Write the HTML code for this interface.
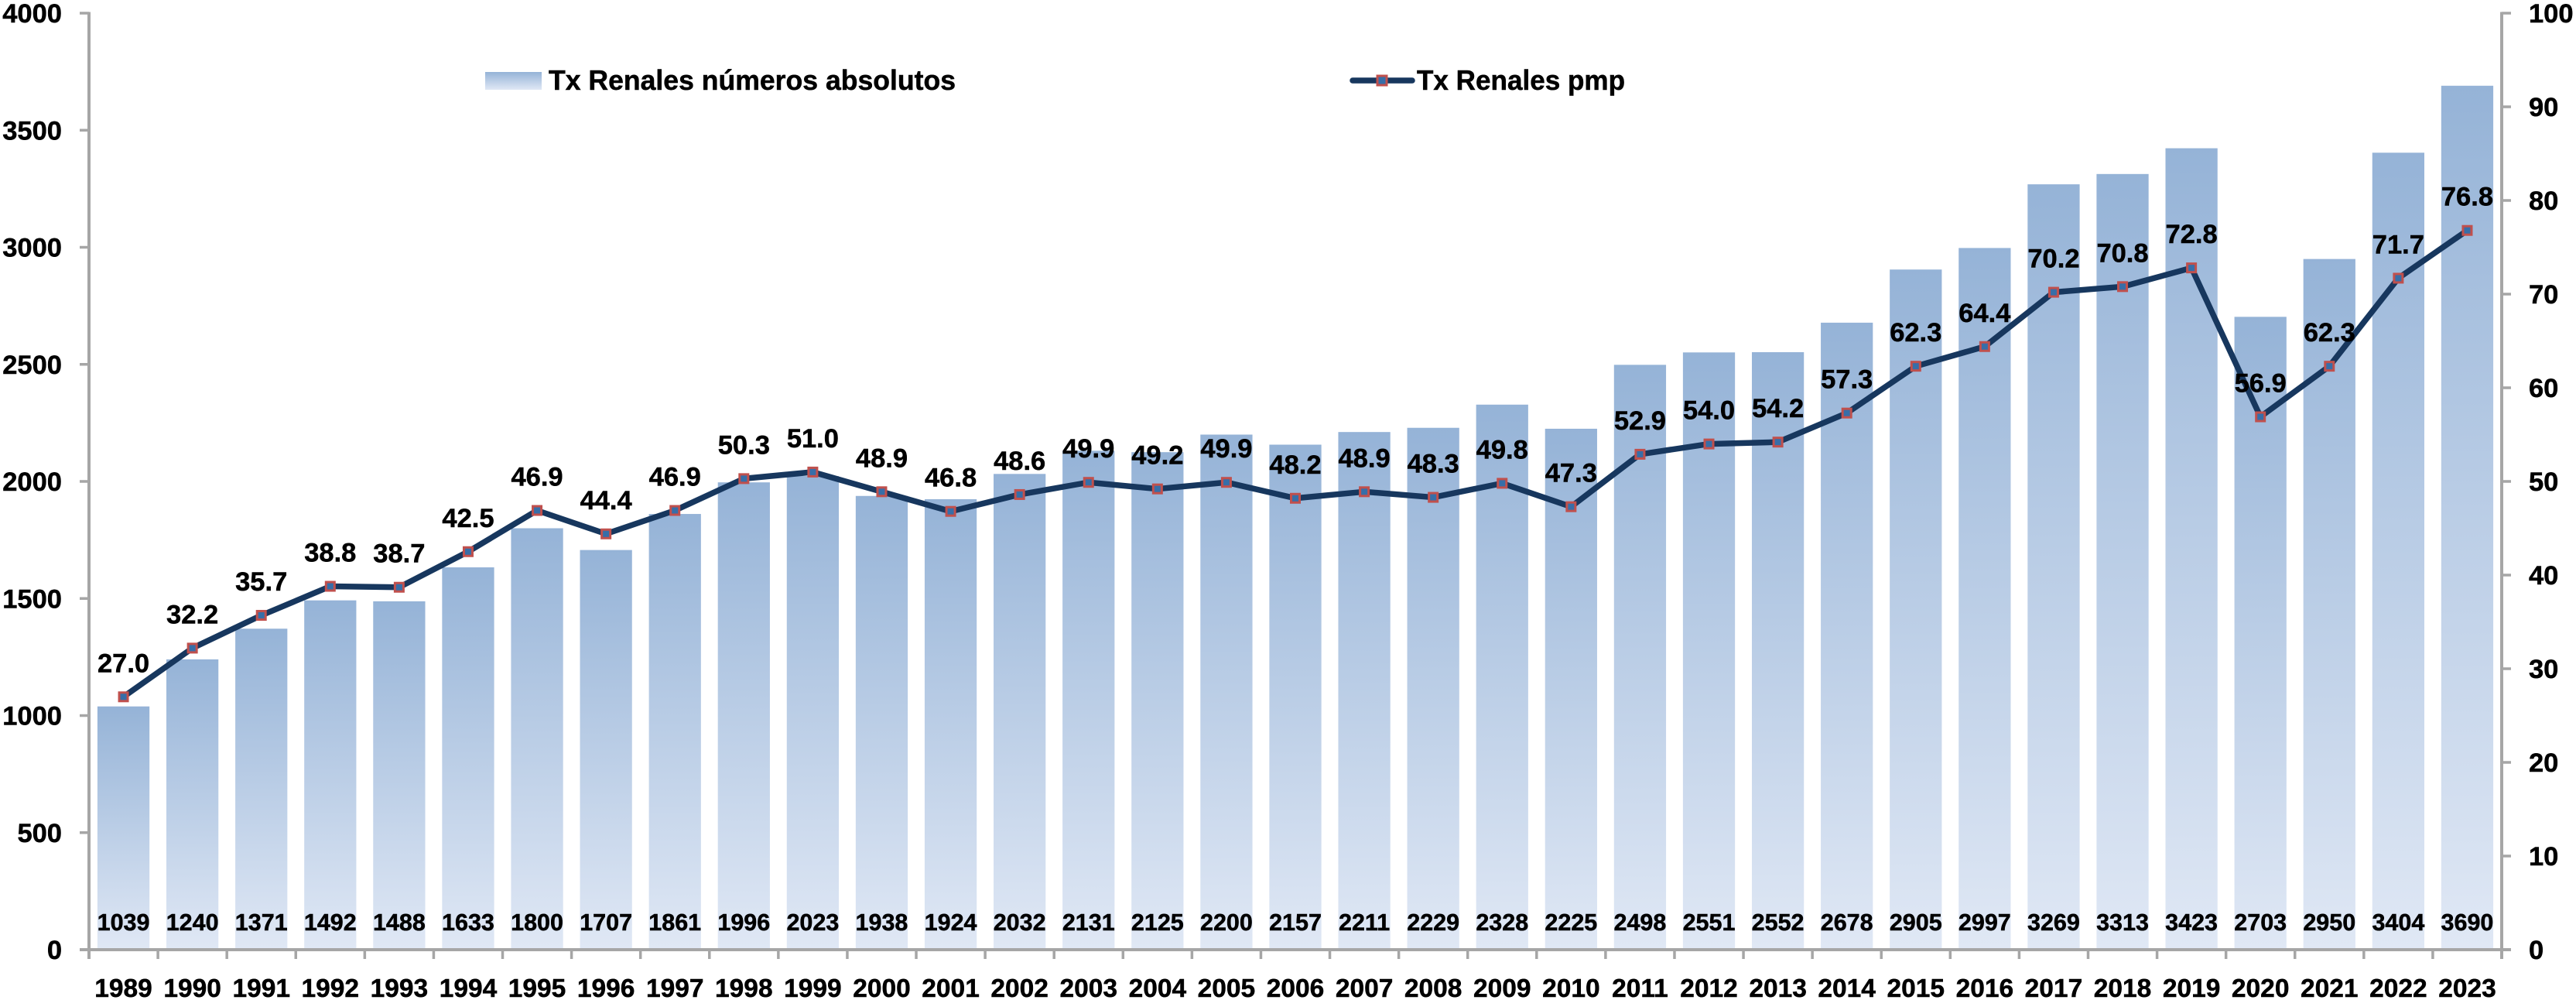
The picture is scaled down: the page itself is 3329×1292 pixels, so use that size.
<!DOCTYPE html>
<html lang="es">
<head>
<meta charset="utf-8">
<title>Tx Renales</title>
<style>
  html, body { margin: 0; padding: 0; background: #fff; }
  svg { display: block; }
  text { font-family: "Liberation Sans", sans-serif; font-weight: 700; fill: #000; stroke: #000; stroke-width: 0.5px; }
</style>
</head>
<body>
<svg id="chart" xmlns="http://www.w3.org/2000/svg" width="3329" height="1292" viewBox="0 0 3329 1292">
  <defs>
    <linearGradient id="barFill" x1="0" y1="0" x2="0" y2="1">
      <stop offset="0" stop-color="#95b3d7"/>
      <stop offset="1" stop-color="#e0e8f5"/>
    </linearGradient>
  </defs>
  <rect x="0" y="0" width="3329" height="1292" fill="#ffffff"/>
  <g id="bars"></g>
  <g id="axes"></g>
  <g id="line"></g>
  <g id="labels"></g>
  <g>
    <g>
      <rect x="627" y="93" width="73" height="23" fill="url(#barFill)"/>
      <text x="709" y="116" font-size="36" textLength="526" lengthAdjust="spacingAndGlyphs">Tx Renales números absolutos</text>
    </g>
    <g>
      <line x1="1748" y1="104" x2="1825" y2="104" stroke="#17375e" stroke-width="7.5" stroke-linecap="round"/>
      <rect x="1780" y="98" width="12" height="12" fill="#376ea8" stroke="#c0504d" stroke-width="3"/>
      <text x="1831" y="116" font-size="36" textLength="269" lengthAdjust="spacingAndGlyphs">Tx Renales pmp</text>
    </g>
  </g>
</svg>
<script>
const years = [1989,1990,1991,1992,1993,1994,1995,1996,1997,1998,1999,2000,2001,2002,2003,2004,2005,2006,2007,2008,2009,2010,2011,2012,2013,2014,2015,2016,2017,2018,2019,2020,2021,2022,2023];
const absolutos = [1039,1240,1371,1492,1488,1633,1800,1707,1861,1996,2023,1938,1924,2032,2131,2125,2200,2157,2211,2229,2328,2225,2498,2551,2552,2678,2905,2997,3269,3313,3423,2703,2950,3404,3690];
const pmp = [27.0,32.2,35.7,38.8,38.7,42.5,46.9,44.4,46.9,50.3,51.0,48.9,46.8,48.6,49.9,49.2,49.9,48.2,48.9,48.3,49.8,47.3,52.9,54.0,54.2,57.3,62.3,64.4,70.2,70.8,72.8,56.9,62.3,71.7,76.8];
const leftTicks = [0,500,1000,1500,2000,2500,3000,3500,4000];
const rightTicks = [0,10,20,30,40,50,60,70,80,90,100];

const NS = 'http://www.w3.org/2000/svg';
const plot = { left: 115, right: 3233, top: 17, bottom: 1227 };
const step = (plot.right - plot.left) / years.length;
const barW = step * 0.755;
const xPos = i => plot.left + step * (i + 0.5);
const yLeft = v => plot.bottom - v / 4000 * (plot.bottom - plot.top);
const yRight = v => plot.bottom - v / 100 * (plot.bottom - plot.top);

function make(tag, attrs, parent, txt) {
  const el = document.createElementNS(NS, tag);
  for (const k in attrs) el.setAttribute(k, attrs[k]);
  if (txt !== undefined) el.textContent = txt;
  parent.appendChild(el);
  return el;
}

const gBars = document.getElementById('bars');
const gAxes = document.getElementById('axes');
const gLine = document.getElementById('line');
const gLabels = document.getElementById('labels');
const AXIS = '#a6a6a6';

/* bars and their value labels */
absolutos.forEach((v, i) => {
  const bar = make('rect', { x: xPos(i) - barW / 2, y: yLeft(v), width: barW, height: plot.bottom - yLeft(v), fill: 'url(#barFill)' }, gBars);
  
  
  const lab = make('text', { x: xPos(i), y: 1202, 'font-size': 30.5, 'text-anchor': 'middle' }, gLabels, String(v));
  
  
});

/* axes */
const axisLines = [
  [plot.left, plot.top - 1.5, plot.left, 1239],
  [plot.right, plot.top - 1.5, plot.right, 1239],
  [103, plot.bottom, 3245, plot.bottom]
];
axisLines.forEach((c, i) => {
  const ax = make('line', { x1: c[0], y1: c[1], x2: c[2], y2: c[3], stroke: AXIS, 'stroke-width': 4 }, gAxes);
  
  
});
leftTicks.forEach(v => {
  const t = make('line', { x1: 103, x2: plot.left, y1: yLeft(v), y2: yLeft(v), stroke: AXIS, 'stroke-width': 3.5 }, gAxes);
  
  
  const l = make('text', { x: 80, y: yLeft(v) + 12, 'font-size': 34.5, 'text-anchor': 'end' }, gAxes, String(v));
  
  
});
rightTicks.forEach(v => {
  const t = make('line', { x1: plot.right, x2: 3245, y1: yRight(v), y2: yRight(v), stroke: AXIS, 'stroke-width': 3.5 }, gAxes);
  
  
  const l = make('text', { x: 3268, y: yRight(v) + 12, 'font-size': 34.5 }, gAxes, String(v));
  
  
});
years.forEach((y, i) => {
  const tx = plot.left + step * i;
  const t = make('line', { x1: tx, x2: tx, y1: plot.bottom, y2: 1239, stroke: AXIS, 'stroke-width': 3.5 }, gAxes);
  
  
  const l = make('text', { x: xPos(i), y: 1288, 'font-size': 33.5, 'text-anchor': 'middle' }, gAxes, String(y));
  
  
});

/* line series */
const pts = pmp.map((v, i) => xPos(i) + ',' + yRight(v)).join(' ');
const poly = make('polyline', { points: pts, fill: 'none', stroke: '#17375e', 'stroke-width': 7.5, 'stroke-linejoin': 'round', 'stroke-linecap': 'round' }, gLine);


pmp.forEach((v, i) => {
  const m = make('rect', { x: xPos(i) - 5.5, y: yRight(v) - 5.5, width: 11, height: 11, fill: '#376ea8', stroke: '#c0504d', 'stroke-width': 3 }, gLine);
  
  
  const l = make('text', { x: xPos(i), y: yRight(v) - 32, 'font-size': 34.5, 'text-anchor': 'middle' }, gLabels, v.toFixed(1));
  
  
});
</script>
</body>
</html>
